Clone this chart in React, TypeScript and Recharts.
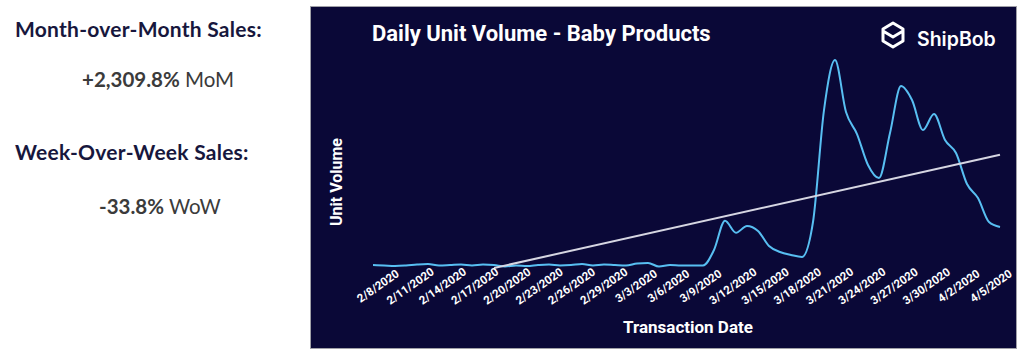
import React from "react";
import { Line, LineChart, XAxis, YAxis } from "recharts";

const dates = [
  "2/8/2020", "2/9/2020", "2/10/2020", "2/11/2020", "2/12/2020", "2/13/2020", "2/14/2020",
  "2/15/2020", "2/16/2020", "2/17/2020", "2/18/2020", "2/19/2020", "2/20/2020", "2/21/2020",
  "2/22/2020", "2/23/2020", "2/24/2020", "2/25/2020", "2/26/2020", "2/27/2020", "2/28/2020",
  "2/29/2020", "3/1/2020", "3/2/2020", "3/3/2020", "3/4/2020", "3/5/2020", "3/6/2020",
  "3/7/2020", "3/8/2020", "3/9/2020", "3/10/2020", "3/11/2020", "3/12/2020", "3/13/2020",
  "3/14/2020", "3/15/2020", "3/16/2020", "3/17/2020", "3/18/2020", "3/19/2020", "3/20/2020",
  "3/21/2020", "3/22/2020", "3/23/2020", "3/24/2020", "3/25/2020", "3/26/2020", "3/27/2020",
  "3/28/2020", "3/29/2020", "3/30/2020", "3/31/2020", "4/1/2020", "4/2/2020", "4/3/2020",
  "4/4/2020", "4/5/2020",
];

const units = [
  28, 24, 19, 24, 33, 38, 24, 28, 33, 24, 33, 28, 14, 24, 19, 28, 33, 24, 28, 38, 24, 33,
  28, 24, 43, 48, 14, 28, 24, 24, 24, 171, 449, 335, 399, 352, 209, 152, 124, 105, 437,
  1501, 1976, 1482, 1273, 979, 855, 1283, 1729, 1596, 1311, 1463, 1216, 1093, 798, 665,
  437, 390,
];

// trend line: start / end points
const trendFrom = { date: "2/19/2020", value: 0 };
const trendTo = { date: "4/5/2020", value: 1076 };

const data = dates.map((d, i) => ({
  date: d,
  units: units[i],
  trend: d === trendFrom.date ? trendFrom.value : d === trendTo.date ? trendTo.value : null,
}));

const FONT = "Roboto, 'DejaVu Sans', sans-serif";
const PANEL_W = 705;
const PLOT_LEFT = 62;
const PLOT_W = PANEL_W - PLOT_LEFT - 16;

function DateTick({ x, y, payload }: any) {
  // labels drift slightly left across the axis so the last one stays inside the panel
  const cx = x + 5 - (14 * (x - PLOT_LEFT)) / PLOT_W;
  const cy = y + 18;
  return (
    <text
      x={cx}
      y={cy}
      textAnchor="middle"
      dominantBaseline="central"
      fill="#ffffff"
      fontFamily={FONT}
      fontWeight={700}
      fontSize={11.5}
      transform={`rotate(-35, ${cx}, ${cy})`}
    >
      {payload.value}
    </text>
  );
}

const heading: React.CSSProperties = {
  position: "absolute",
  left: 15,
  fontSize: 21,
  letterSpacing: 0.25,
  fontWeight: 700,
  color: "#17173d",
  whiteSpace: "nowrap",
};

const stat: React.CSSProperties = {
  position: "absolute",
  fontSize: 20.5,
  color: "#3b3b3b",
  whiteSpace: "nowrap",
};

export default function App() {
  return (
    <div
      style={{
        position: "absolute",
        left: 0,
        top: 0,
        width: 1024,
        height: 358,
        background: "#fff",
        fontFamily: "Lato, sans-serif",
      }}
    >
      <div style={{ ...heading, top: 16 }}>Month-over-Month Sales:</div>
      <div style={{ ...stat, left: 82, top: 67 }}>
        <b>+2,309.8%</b> MoM
      </div>
      <div style={{ ...heading, top: 139 }}>Week-Over-Week Sales:</div>
      <div style={{ ...stat, left: 99, top: 194 }}>
        <b>-33.8%</b> WoW
      </div>

      <div
        style={{
          position: "absolute",
          left: 311,
          top: 7,
          width: PANEL_W,
          height: 341,
          background: "#0a0837",
          boxShadow: "0 0 0 1px #a0a0a8",
        }}
      >
        <div
          style={{
            position: "absolute",
            left: 61,
            top: 14,
            fontFamily: FONT,
            fontWeight: 700,
            fontSize: 22,
            color: "#fff",
            whiteSpace: "nowrap",
          }}
        >
          Daily Unit Volume - Baby Products
        </div>
        <svg style={{ position: "absolute", left: 569, top: 14 }} width={26} height={32}>
          <path
            d="M13 2 L23 8 L23 20 L13 26 L3 20 L3 8 Z M3 10 L13 16 L23 10"
            fill="none"
            stroke="#fff"
            strokeWidth={3}
            strokeLinejoin="round"
          />
        </svg>
        <div
          style={{
            position: "absolute",
            left: 606,
            top: 20,
            fontFamily: "Inter, sans-serif",
            fontWeight: 600,
            fontSize: 19.5,
            color: "#fff",
            whiteSpace: "nowrap",
          }}
        >
          ShipBob
        </div>
        <div
          style={{
            position: "absolute",
            left: 25,
            top: 175,
            transform: "translate(-50%, -50%) rotate(-90deg)",
            fontFamily: FONT,
            fontWeight: 700,
            fontSize: 16,
            color: "#fff",
            whiteSpace: "nowrap",
          }}
        >
          Unit Volume
        </div>
        <div
          style={{
            position: "absolute",
            left: 377,
            top: 320,
            transform: "translate(-50%, -50%)",
            fontFamily: FONT,
            fontWeight: 700,
            fontSize: 17,
            color: "#fff",
            whiteSpace: "nowrap",
          }}
        >
          Transaction Date
        </div>

        <LineChart
          width={PANEL_W}
          height={341}
          data={data}
          margin={{ top: 50.5, right: 16, left: PLOT_LEFT, bottom: 30 }}
        >
          <XAxis
            dataKey="date"
            interval={2}
            height={50}
            axisLine={false}
            tickLine={false}
            tickSize={0}
            tickMargin={0}
            tick={<DateTick />}
          />
          <YAxis hide domain={[0, 2000]} />
          <Line
            type="monotone"
            dataKey="units"
            stroke="#58bff2"
            strokeWidth={2}
            dot={false}
            isAnimationActive={false}
          />
          <Line
            type="linear"
            dataKey="trend"
            stroke="#d6d6e2"
            strokeWidth={2}
            dot={false}
            connectNulls
            isAnimationActive={false}
          />
        </LineChart>
      </div>
    </div>
  );
}
